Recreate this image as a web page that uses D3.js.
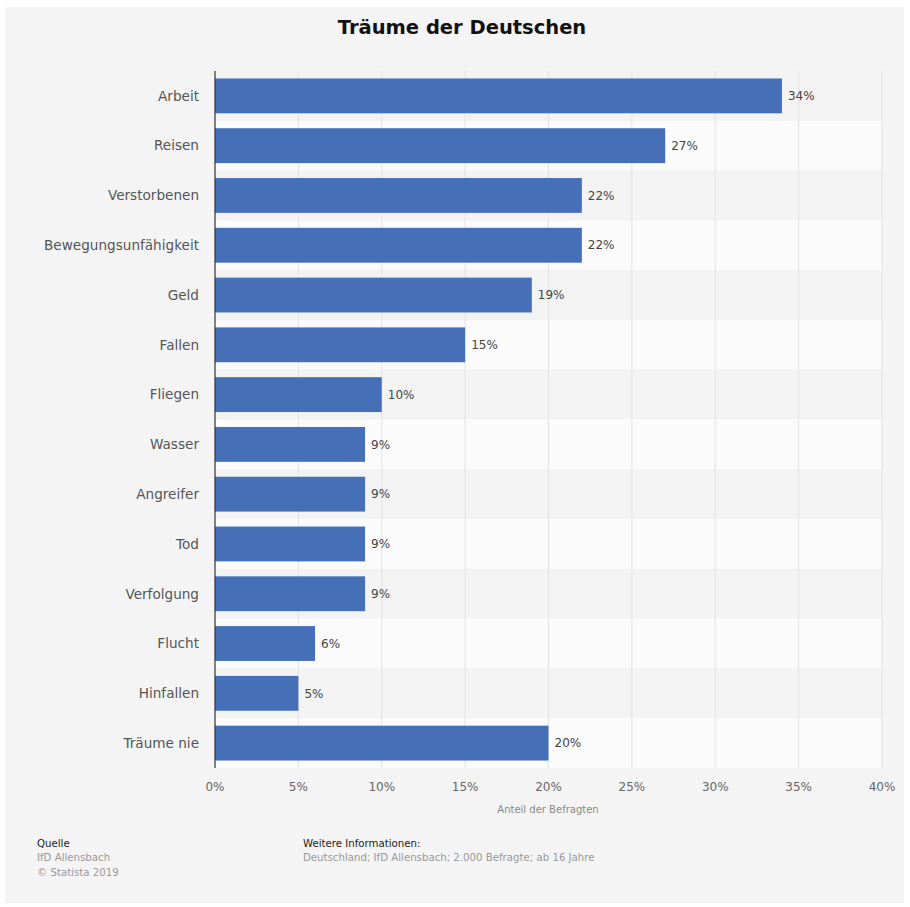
<!DOCTYPE html>
<html>
<head>
<meta charset="utf-8">
<script src="https://cdn.jsdelivr.net/npm/d3@7"></script>
<style>
  body { margin: 0; background: #fff; }
  svg text { font-family: "DejaVu Sans", sans-serif; }
</style>
</head>
<body>
<div id="main"></div>
<script>
const categories = ['Arbeit', 'Reisen', 'Verstorbenen', 'Bewegungsunfähigkeit', 'Geld', 'Fallen', 'Fliegen',
  'Wasser', 'Angreifer', 'Tod', 'Verfolgung', 'Flucht', 'Hinfallen', 'Träume nie'];
const values = [34, 27, 22, 22, 19, 15, 10, 9, 9, 9, 9, 6, 5, 20];
const ticks = [0, 5, 10, 15, 20, 25, 30, 35, 40];

const W = 910, H = 907;
let svg = d3.select('#main').append('svg').attr('width', W).attr('height', H);

svg.append('rect').attr('x', 5).attr('y', 7).attr('width', 899).attr('height', 896).attr('fill', '#f4f4f4');

svg.append('text').attr('x', 462).attr('y', 34).attr('text-anchor', 'middle')
  .style('font-size', '19.5px').style('font-weight', 'bold').attr('fill', '#111')
  .text('Träume der Deutschen');

let x = d3.scaleLinear().domain([0, 40]).range([215, 882]);
let y = d3.scaleBand().domain(categories).range([71, 768]).paddingInner(0.3).paddingOuter(0.15);

let step = y.step();
// alternating row bands
svg.append('g').selectAll('rect').data(categories).join('rect')
  .attr('x', x(0)).attr('width', x(40) - x(0))
  .attr('y', d => y(d) + y.bandwidth() / 2 - step / 2)
  .attr('height', step)
  .attr('fill', (d, i) => i % 2 ? '#fbfbfb' : '#f3f3f3');

// gridlines
svg.append('g').selectAll('line').data(ticks.slice(1)).join('line')
  .attr('x1', d => x(d)).attr('x2', d => x(d))
  .attr('y1', 71).attr('y2', 768)
  .attr('stroke', '#e3e3e3').attr('stroke-width', 1);

// bars
svg.append('g').selectAll('rect').data(values).join('rect')
  .attr('x', x(0))
  .attr('y', (d, i) => y(categories[i]))
  .attr('width', d => x(d) - x(0))
  .attr('height', y.bandwidth())
  .attr('fill', '#4570b8');

// value labels
svg.append('g').selectAll('text').data(values).join('text')
  .attr('x', d => x(d) + 6)
  .attr('y', (d, i) => y(categories[i]) + y.bandwidth() / 2)
  .attr('dy', '0.35em')
  .style('font-size', '12px').attr('fill', '#444')
  .text(d => d + '%');

// category labels
svg.append('g').selectAll('text').data(categories).join('text')
  .attr('x', 199)
  .attr('y', d => y(d) + y.bandwidth() / 2)
  .attr('dy', '0.35em').attr('text-anchor', 'end')
  .style('font-size', '13.6px').attr('fill', '#555')
  .text(d => d);

// axis line
svg.append('line').attr('x1', x(0)).attr('x2', x(0)).attr('y1', 71).attr('y2', 768)
  .attr('stroke', '#333').attr('stroke-width', 1.2);

// x tick labels
svg.append('g').selectAll('text').data(ticks).join('text')
  .attr('x', d => x(d)).attr('y', 791).attr('text-anchor', 'middle')
  .style('font-size', '12px').attr('fill', '#666')
  .text(d => d + '%');

svg.append('text').attr('x', 548).attr('y', 813).attr('text-anchor', 'middle')
  .style('font-size', '10px').attr('fill', '#888').text('Anteil der Befragten');

// footer
const foot = svg.append('g').style('font-size', '10.2px');
foot.append('text').attr('x', 37).attr('y', 847).attr('fill', '#222').text('Quelle');
foot.append('text').attr('x', 37).attr('y', 861).attr('fill', '#999').text('IfD Allensbach');
foot.append('text').attr('x', 37).attr('y', 876).attr('fill', '#999').text('© Statista 2019');
foot.append('text').attr('x', 303).attr('y', 847).attr('fill', '#222').text('Weitere Informationen:');
foot.append('text').attr('x', 303).attr('y', 861).attr('fill', '#999').text('Deutschland; IfD Allensbach; 2.000 Befragte; ab 16 Jahre');
</script>
</body>
</html>
